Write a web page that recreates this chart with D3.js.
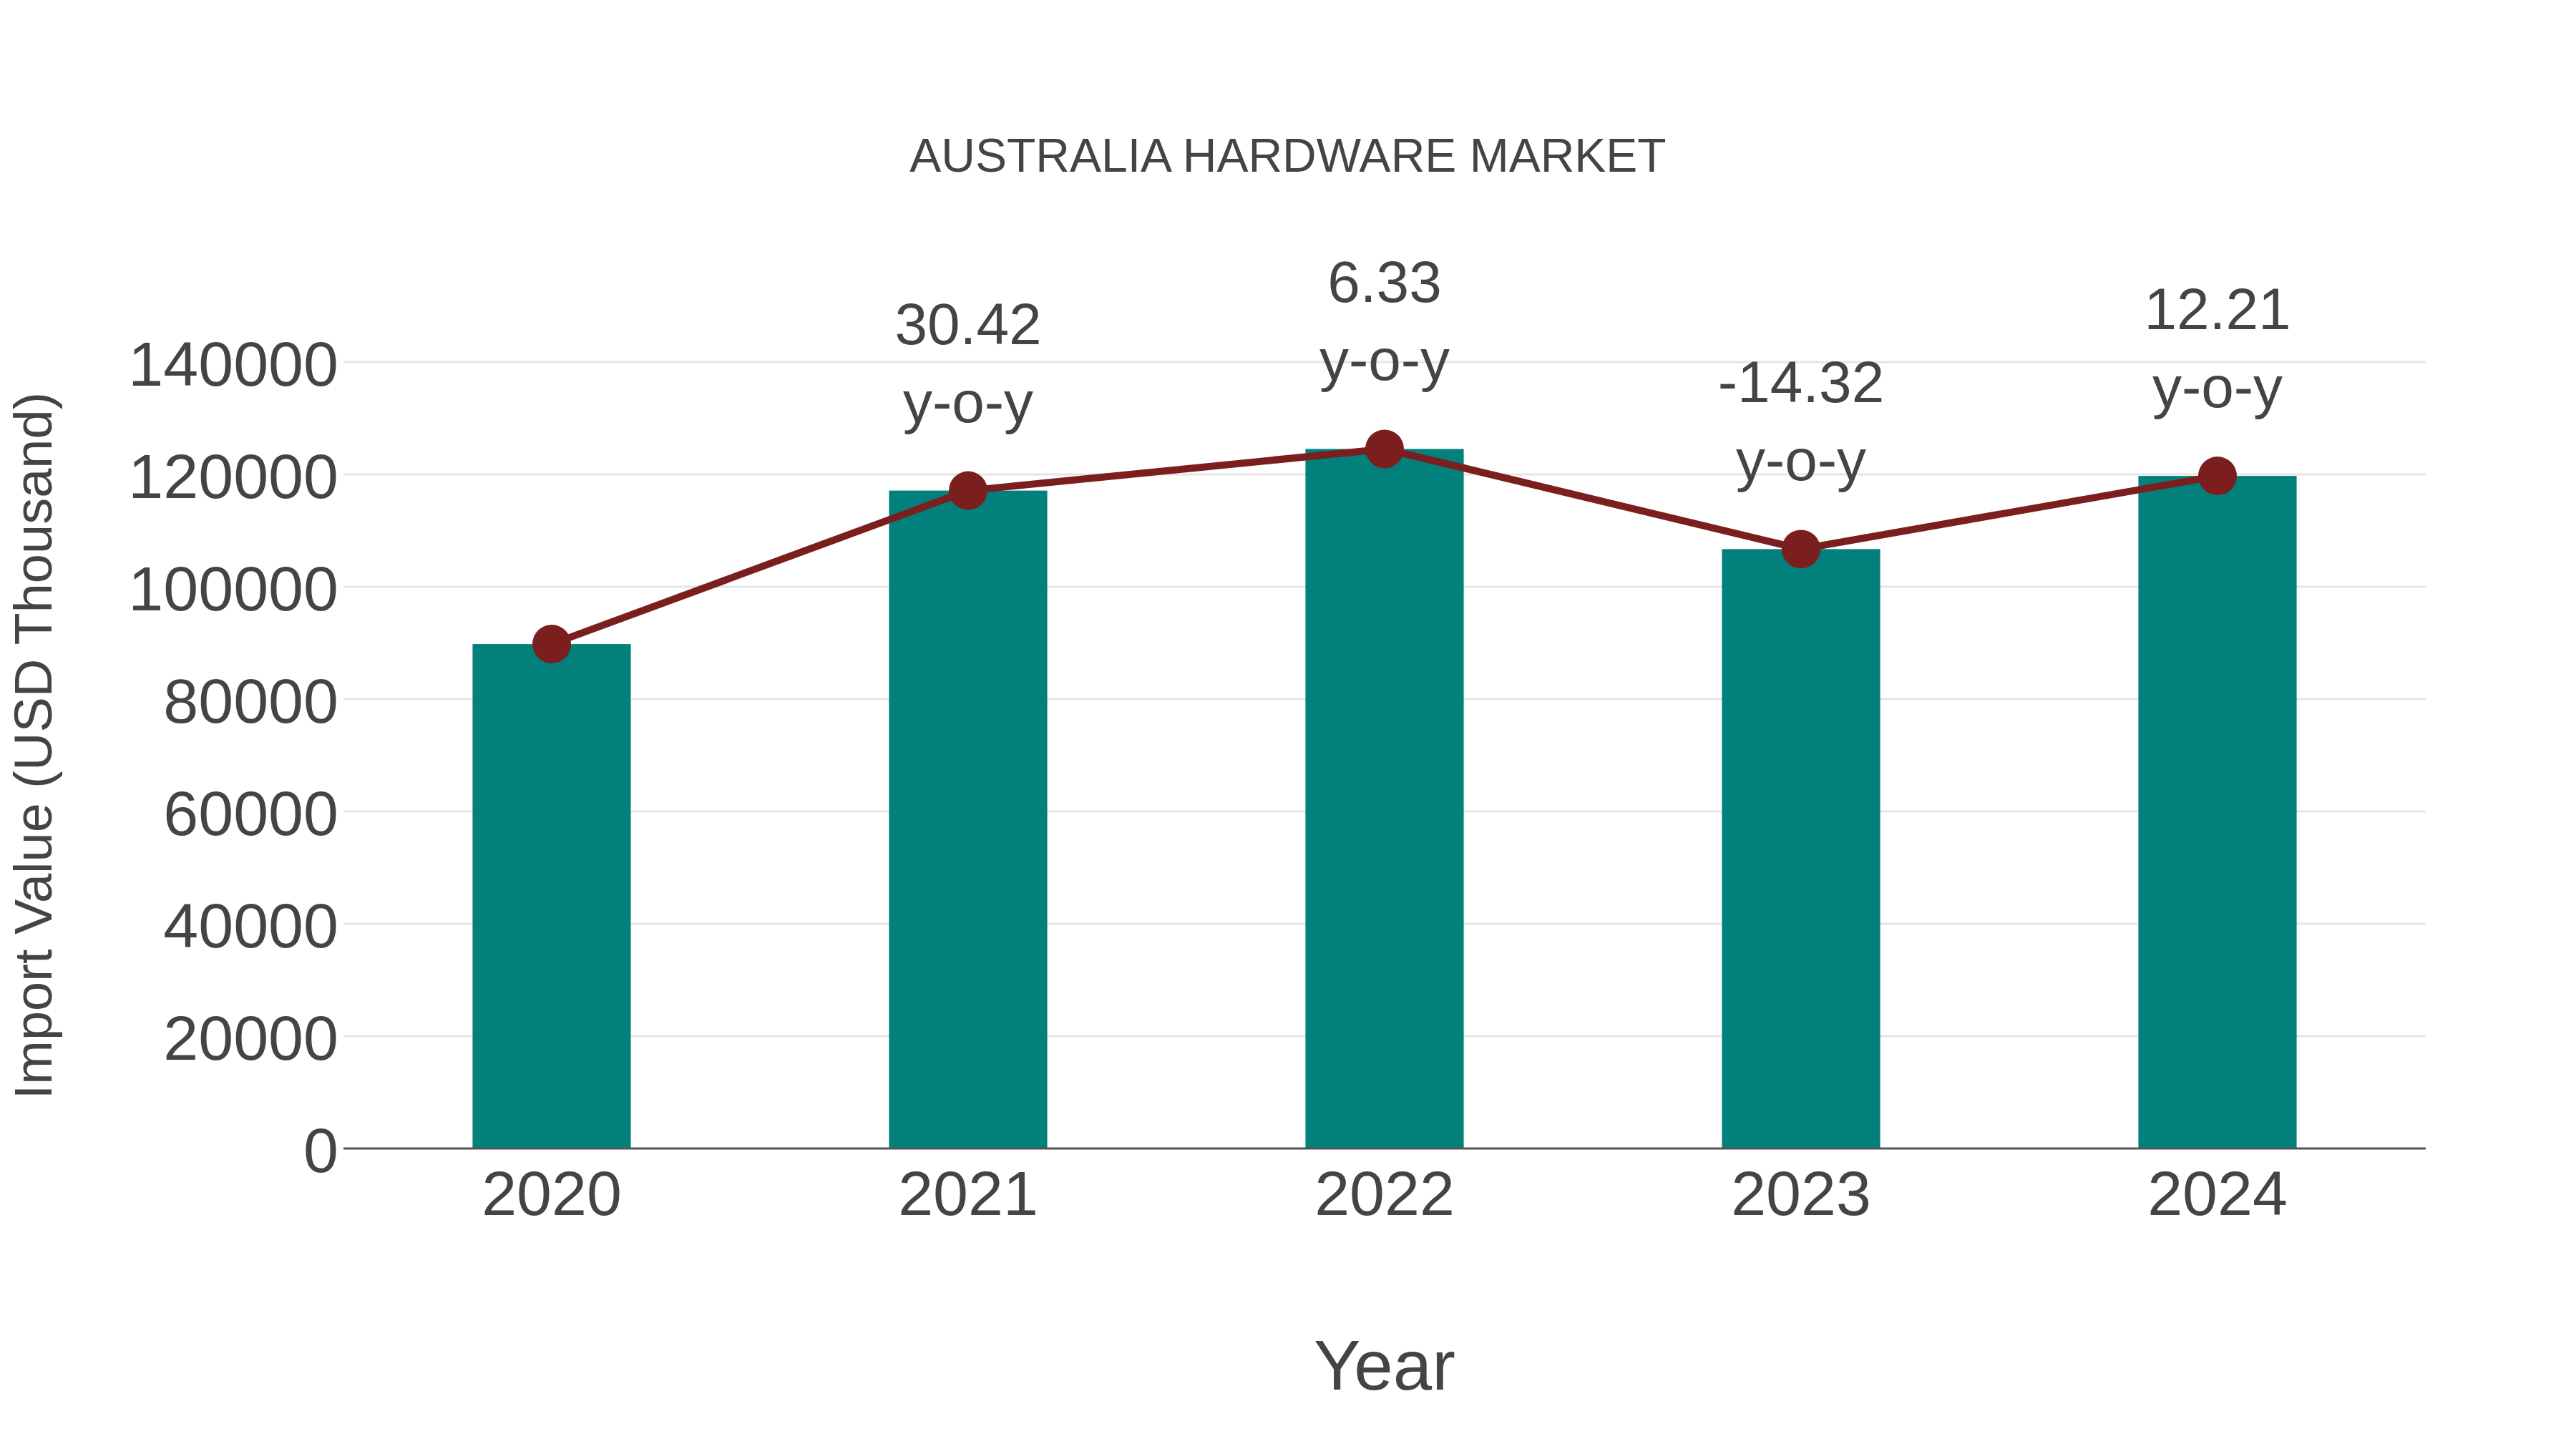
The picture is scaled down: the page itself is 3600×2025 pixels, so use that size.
<!DOCTYPE html>
<html>
<head>
<meta charset="utf-8">
<script src="https://cdn.jsdelivr.net/npm/d3@7"></script>
<style>
  body { margin: 0; background: #fff; }
  text { font-family: "Liberation Sans", Arial, sans-serif; fill: #444; }
</style>
</head>
<body>
<div id="chart"></div>
<script>
// chart data
const years = ["2020", "2021", "2022", "2023", "2024"];
const importValues = [89800, 117120, 124530, 106700, 119730];
const yoyLabels = [null, "30.42", "6.33", "-14.32", "12.21"];
const yTicks = [0, 20000, 40000, 60000, 80000, 100000, 120000, 140000];

const width = 3600, height = 2025;
const plot = { left: 480, right: 3390, top: 506, bottom: 1605 };

let svg = d3.select("#chart").append("svg")
    .attr("width", width)
    .attr("height", height);

svg.append("rect")
    .attr("width", width)
    .attr("height", height)
    .attr("fill", "#fff");

let x = d3.scaleBand()
    .domain(years)
    .range([plot.left, plot.right])
    .paddingInner(0.62)
    .paddingOuter(0.31);

let y = d3.scaleLinear()
    .domain([0, 140000])
    .range([plot.bottom, plot.top]);

// grid lines
svg.append("g")
    .selectAll("line")
    .data(yTicks.filter(d => d > 0))
    .enter().append("line")
    .attr("x1", plot.left)
    .attr("x2", plot.right)
    .attr("y1", d => y(d))
    .attr("y2", d => y(d))
    .attr("stroke", "#e5e5e5")
    .attr("stroke-width", 3);

// y axis labels (no domain line, no ticks)
let yAxis = svg.append("g")
    .attr("transform", `translate(${plot.left},0)`)
    .call(d3.axisLeft(y).tickValues(yTicks).tickSize(0).tickPadding(7).tickFormat(d3.format("d")));
yAxis.select(".domain").remove();
yAxis.selectAll("text")
    .attr("dy", null)
    .attr("y", 32)
    .style("font-size", "88px")
    .style("font-family", "'Liberation Sans', Arial, sans-serif")
    .attr("fill", "#444");

// bars
svg.append("g")
    .selectAll("rect")
    .data(importValues)
    .enter().append("rect")
    .attr("x", (d, i) => x(years[i]))
    .attr("y", d => y(d))
    .attr("width", x.bandwidth())
    .attr("height", d => y(0) - y(d))
    .attr("fill", "#02807c");

// x axis
let xAxis = svg.append("g")
    .attr("transform", `translate(0,${plot.bottom})`)
    .call(d3.axisBottom(x).tickSize(0).tickPadding(0));
xAxis.select(".domain").remove();
xAxis.selectAll("text")
    .attr("dy", null)
    .attr("y", 93)
    .style("font-size", "88px")
    .style("font-family", "'Liberation Sans', Arial, sans-serif")
    .attr("fill", "#444");

svg.append("line")
    .attr("x1", plot.left)
    .attr("x2", plot.right)
    .attr("y1", y(0))
    .attr("y2", y(0))
    .attr("stroke", "#555")
    .attr("stroke-width", 3);

// line + markers
let cx = (d, i) => x(years[i]) + x.bandwidth() / 2;
let line = d3.line()
    .x((d, i) => cx(d, i))
    .y(d => y(d));

svg.append("path")
    .datum(importValues)
    .attr("d", line)
    .attr("fill", "none")
    .attr("stroke", "#7b1e1e")
    .attr("stroke-width", 10)
    .attr("stroke-linejoin", "round");

svg.append("g")
    .selectAll("circle")
    .data(importValues)
    .enter().append("circle")
    .attr("cx", cx)
    .attr("cy", d => y(d))
    .attr("r", 27)
    .attr("fill", "#7b1e1e");

// y-o-y annotations
let notes = svg.append("g")
    .selectAll("text")
    .data(importValues.map((v, i) => ({ v, i, label: yoyLabels[i] })).filter(d => d.label !== null))
    .enter().append("text")
    .attr("text-anchor", "middle")
    .style("font-size", "82px");
notes.append("tspan")
    .attr("x", d => cx(d.v, d.i))
    .attr("y", d => y(d.v) - 205)
    .text(d => d.label);
notes.append("tspan")
    .attr("x", d => cx(d.v, d.i))
    .attr("y", d => y(d.v) - 96)
    .text("y-o-y");

// titles
svg.append("text")
    .attr("x", width / 2)
    .attr("y", 240)
    .attr("text-anchor", "middle")
    .style("font-size", "66px")
    .text("AUSTRALIA HARDWARE MARKET");

svg.append("text")
    .attr("x", (plot.left + plot.right) / 2)
    .attr("y", 1942)
    .attr("text-anchor", "middle")
    .style("font-size", "98px")
    .text("Year");

svg.append("text")
    .attr("transform", "translate(72,1042) rotate(-90)")
    .attr("text-anchor", "middle")
    .style("font-size", "74px")
    .text("Import Value (USD Thousand)");
</script>
</body>
</html>
